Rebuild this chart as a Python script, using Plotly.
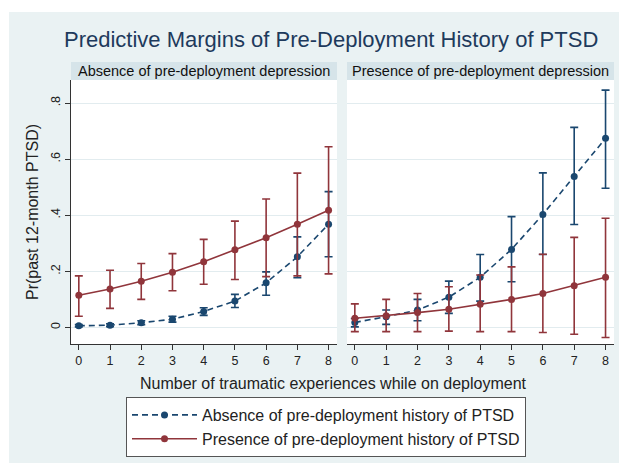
import plotly.graph_objects as go

x_vals = [0, 1, 2, 3, 4, 5, 6, 7, 8]

# Panel 1: Absence of pre-deployment depression
p1_abs_y = [0.006, 0.008, 0.017, 0.029, 0.057, 0.094, 0.159, 0.252, 0.368]
p1_abs_hi = [0.010, 0.013, 0.024, 0.040, 0.070, 0.118, 0.198, 0.323, 0.484]
p1_abs_lo = [0.002, 0.003, 0.010, 0.019, 0.043, 0.071, 0.115, 0.177, 0.252]
p1_pre_y = [0.115, 0.137, 0.165, 0.197, 0.234, 0.277, 0.320, 0.368, 0.418]
p1_pre_hi = [0.184, 0.204, 0.228, 0.263, 0.314, 0.379, 0.458, 0.550, 0.644]
p1_pre_lo = [0.040, 0.068, 0.100, 0.131, 0.154, 0.171, 0.181, 0.184, 0.191]

# Panel 2: Presence of pre-deployment depression
p2_abs_y = [0.018, 0.038, 0.062, 0.108, 0.179, 0.278, 0.403, 0.538, 0.674]
p2_abs_hi = [0.032, 0.062, 0.100, 0.165, 0.260, 0.395, 0.551, 0.713, 0.846]
p2_abs_lo = [0.002, 0.011, 0.024, 0.050, 0.094, 0.163, 0.260, 0.367, 0.496]
p2_pre_y = [0.033, 0.042, 0.053, 0.065, 0.083, 0.100, 0.121, 0.149, 0.179]
p2_pre_hi = [0.084, 0.100, 0.121, 0.145, 0.187, 0.216, 0.261, 0.321, 0.389]
p2_pre_lo = [-0.015, -0.015, -0.015, -0.013, -0.015, -0.015, -0.018, -0.024, -0.036]

y_tickvals = [0, 0.2, 0.4, 0.6, 0.8]
y_ticktext = ["0", ".2", ".4", ".6", ".8"]

series_names = ["Absence of pre-deployment history of PTSD",
                "Presence of pre-deployment history of PTSD"]
panel_titles = ["Absence of pre-deployment depression",
                "Presence of pre-deployment depression"]

BLUE = "#1a476f"
RED = "#90353b"
BG = "#eaf2f3"
STRIP = "#d6e4e9"
GRID = "#e2ecef"
FONT = "Liberation Sans, Arial, sans-serif"

# page has an 8px body margin; figure occupies screen x 8..627, y 8..463
OFF = 8
W, H = 627 - OFF, 463 - OFF
def px(xs): return (xs - OFF) / W
def py(ys): return (463 - ys) / H

fig = go.Figure()

def add_series(y, hi, lo, color, dash, name, xa, ya, show):
    fig.add_trace(go.Scatter(
        x=x_vals, y=y, mode="lines+markers", name=name,
        line=dict(color=color, width=1.6, dash=dash),
        marker=dict(color=color, size=7),
        error_y=dict(type="data", symmetric=False,
                     array=[h - v for h, v in zip(hi, y)],
                     arrayminus=[v - l for v, l in zip(y, lo)],
                     color=color, thickness=1.6, width=4),
        xaxis=xa, yaxis=ya, showlegend=show, legendgroup=name))

add_series(p1_abs_y, p1_abs_hi, p1_abs_lo, BLUE, "6px,4px", series_names[0], "x", "y", True)
add_series(p1_pre_y, p1_pre_hi, p1_pre_lo, RED, "solid", series_names[1], "x", "y", True)
add_series(p2_abs_y, p2_abs_hi, p2_abs_lo, BLUE, "6px,4px", series_names[0], "x2", "y2", False)
add_series(p2_pre_y, p2_pre_hi, p2_pre_lo, RED, "solid", series_names[1], "x2", "y2", False)

xr = [-0.25, 8.27]
yr = [-0.059, 0.882]
dom_y = [py(344), py(80)]

xcommon = dict(range=xr, tickvals=x_vals, ticks="outside", ticklen=5, tickcolor="#333",
               showline=True, linecolor="#333", linewidth=1, showgrid=False, zeroline=False,
               tickfont=dict(size=12.5, color="#222", family=FONT))
fig.update_layout(
    xaxis=dict(domain=[px(71), px(337)], anchor="y", **xcommon),
    xaxis2=dict(domain=[px(347), px(614)], anchor="y2", **xcommon),
    yaxis=dict(domain=dom_y, range=yr, anchor="x", tickvals=y_tickvals, ticktext=y_ticktext,
               tickangle=-90, ticks="outside", ticklen=5, tickcolor="#333",
               showline=True, linecolor="#333", linewidth=1,
               showgrid=True, gridcolor=GRID, gridwidth=1.2, zeroline=False,
               tickfont=dict(size=12.5, color="#222", family=FONT)),
    yaxis2=dict(domain=dom_y, range=yr, anchor="x2", tickvals=y_tickvals, showticklabels=False,
                ticks="", showline=False, showgrid=True, gridcolor=GRID, gridwidth=1.2,
                zeroline=False),
)

shapes = [
    dict(type="rect", xref="paper", yref="paper", x0=0, x1=1, y0=py(12), y1=1,
         fillcolor="white", line=dict(width=0), layer="below"),
    dict(type="rect", xref="paper", yref="paper", x0=0, x1=px(9), y0=0, y1=1,
         fillcolor="white", line=dict(width=0), layer="below"),
    dict(type="rect", xref="paper", yref="paper", x0=px(71), x1=px(337), y0=py(80), y1=py(62),
         fillcolor=STRIP, line=dict(width=0), layer="below"),
    dict(type="rect", xref="paper", yref="paper", x0=px(347), x1=px(614), y0=py(80), y1=py(62),
         fillcolor=STRIP, line=dict(width=0), layer="below"),
]

annotations = [
    dict(text=panel_titles[0], x=px(204), y=py(71), xref="paper", yref="paper",
         showarrow=False, xanchor="center", yanchor="middle",
         font=dict(size=14.5, color="#111", family=FONT)),
    dict(text=panel_titles[1], x=px(480.5), y=py(71), xref="paper", yref="paper",
         showarrow=False, xanchor="center", yanchor="middle",
         font=dict(size=14.5, color="#111", family=FONT)),
    dict(text="Pr(past 12-month PTSD)", x=px(33), y=py(212), xref="paper", yref="paper",
         showarrow=False, textangle=-90, xanchor="center", yanchor="middle",
         font=dict(size=16, color="#222", family=FONT)),
    dict(text="Number of traumatic experiences while on deployment", x=px(333), y=py(383),
         xref="paper", yref="paper", showarrow=False, xanchor="center", yanchor="middle",
         font=dict(size=16, color="#222", family=FONT)),
    dict(text="Predictive Margins of Pre-Deployment History of PTSD", x=px(331), y=py(40),
         xref="paper", yref="paper", showarrow=False, xanchor="center", yanchor="middle",
         font=dict(size=22, color="#1e3a5c", family=FONT)),
]

fig.update_layout(
    width=W, height=H,
    margin=dict(l=0, r=0, t=0, b=0),
    paper_bgcolor=BG, plot_bgcolor="white",
    shapes=shapes, annotations=annotations,
    font=dict(family=FONT, color="#222"),
    legend=dict(x=px(126), y=py(397), xanchor="left", yanchor="top",
                bgcolor="white", bordercolor="#555", borderwidth=1,
                font=dict(size=16, color="#222", family=FONT),
                itemwidth=65, tracegroupgap=0),
)

fig.write_html("out.html")
